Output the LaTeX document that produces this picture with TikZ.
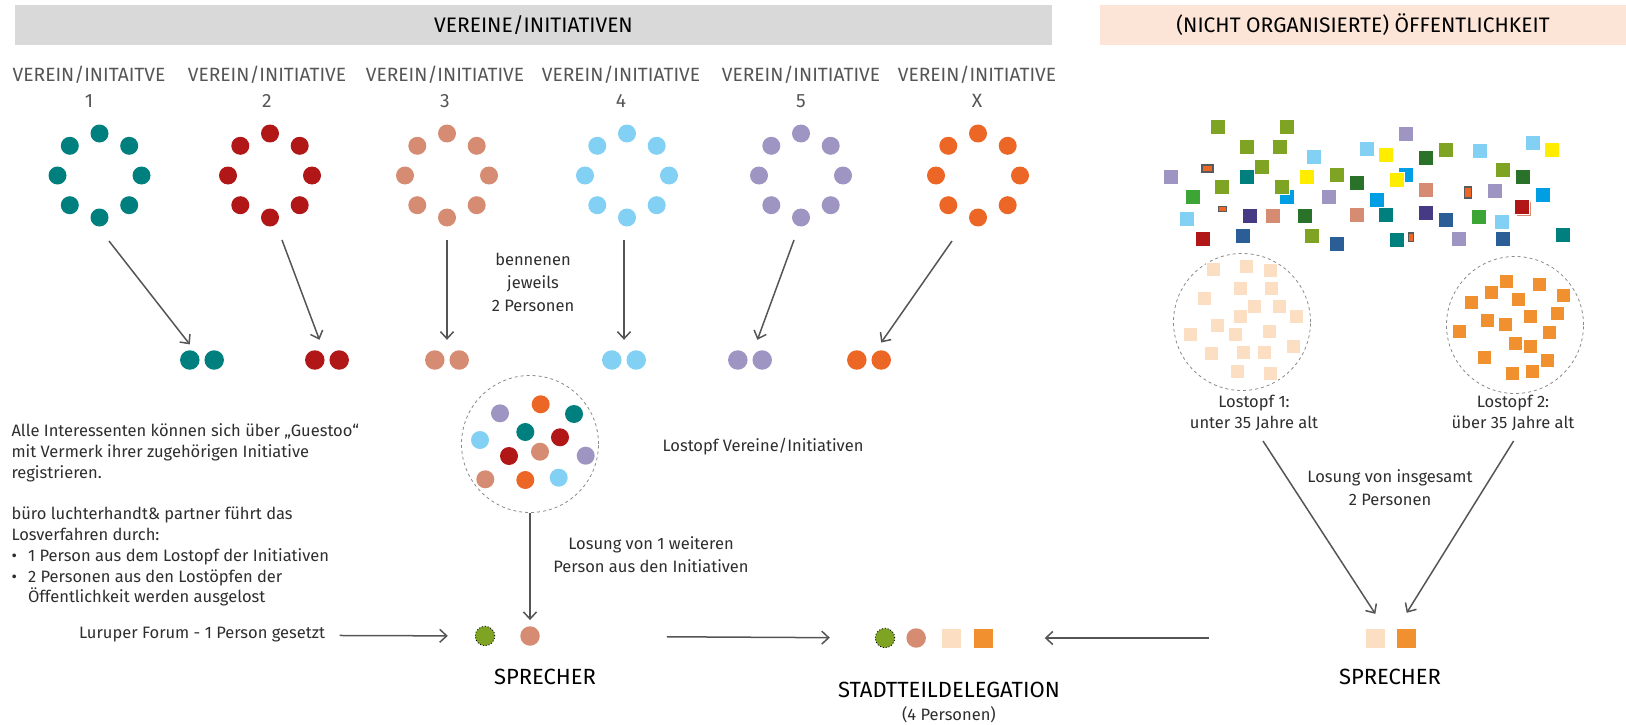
\documentclass[tikz,border=0pt]{standalone}
\usepackage{fontspec}
\setmainfont{Fira Sans}
\usetikzlibrary{calc,positioning,arrows.meta}

\definecolor{cteal}{HTML}{007F7F}
\definecolor{cred}{HTML}{B01716}
\definecolor{csalmon}{HTML}{D68C73}
\definecolor{clblue}{HTML}{83D0F5}
\definecolor{cpurple}{HTML}{9E95C3}
\definecolor{corange}{HTML}{EC6726}
\definecolor{colive}{HTML}{7FA323}
\definecolor{cyellow}{HTML}{FFED00}
\definecolor{cdgreen}{HTML}{2A7129}
\definecolor{cblue}{HTML}{009FE3}
\definecolor{cgreen}{HTML}{3DA535}
\definecolor{cdpurple}{HTML}{473A85}
\definecolor{cdblue}{HTML}{2B5E96}
\definecolor{cpeach}{HTML}{FCDEC3}
\definecolor{corangeb}{HTML}{F0902E}
\definecolor{chead}{HTML}{D9D9D9}
\definecolor{cpbar}{HTML}{FCE4D6}
\definecolor{cline}{HTML}{555555}
\definecolor{cpot}{HTML}{8A8A8A}
\definecolor{cgsq}{HTML}{5A5A5A}
\definecolor{clbl}{HTML}{555555}
\definecolor{ctxt}{HTML}{2E2E2E}

\begin{document}
\begin{tikzpicture}[x=1pt,y=-1pt,
    dot/.style={circle,fill=#1,inner sep=0pt,minimum size=18pt},
    pdot/.style={circle,fill=#1,inner sep=0pt,minimum size=19.5pt},
    sq/.style={rectangle,fill=#1,draw=white,line width=0.5pt,inner sep=0pt,minimum size=15pt},
    psq/.style={rectangle,fill=#1,draw=white,line width=0.5pt,inner sep=0pt,minimum size=14pt},
    bsq/.style={rectangle,fill=#1,inner sep=0pt,minimum size=19pt},
    gsq/.style={rectangle,draw=cgsq,line width=2.2pt,fill=corange,inner sep=0pt},
    pot/.style={circle,draw=cpot,line width=0.8pt,dash pattern=on 3pt off 3pt,inner sep=0pt,minimum size=137pt},
    pair/.style={rectangle,inner sep=0pt,minimum width=24pt,minimum height=40pt},
    gdot/.style={pdot=colive,draw=black,line width=0.9pt,dash pattern=on 0.9pt off 2pt},
    bar/.style={rectangle,inner sep=0pt,minimum height=40pt,text=black,font=\fontsize{21}{25}\selectfont},
    lbl/.style={align=center,text=clbl,font=\fontsize{19.2}{26}\selectfont},
    txt/.style={align=center,text=ctxt,font=\fontsize{16.5}{23}\selectfont},
    big/.style={text=black,font=\fontsize{22}{26}\selectfont},
    arr/.style={draw=cline,line width=1.5pt,-{Straight Barb[length=7pt,width=13pt]}}
  ]
\useasboundingbox (0,0) rectangle (1626,725);

% headers
\node[bar,fill=chead,minimum width=1037pt] (hv) at (533.5,25) {VEREINE/INITIATIVEN};
\node[bar,fill=cpbar,minimum width=526pt] (ho) at (1363,25) {(NICHT ORGANISIERTE) ÖFFENTLICHKEIT};

% vereine / initiativen
\node[lbl] (l1) at (89,87) {VEREIN/INITAITVE\\1};
\node[lbl] (l2) at (267,87) {VEREIN/INITIATIVE\\2};
\node[lbl] (l3) at (445,87) {VEREIN/INITIATIVE\\3};
\node[lbl] (l4) at (621,87) {VEREIN/INITIATIVE\\4};
\node[lbl] (l5) at (801,87) {VEREIN/INITIATIVE\\5};
\node[lbl] (l6) at (977,87) {VEREIN/INITIATIVE\\X};

\foreach \n/\x/\c in {1/99.5/cteal,2/270/cred,3/447/csalmon,4/627/clblue,5/801/cpurple,6/978/corange}{
  \coordinate (g\n) at (\x,175.5);
  \foreach \a in {0,45,...,315}
    \node[dot=\c] at ($(g\n)+(\a:42)$) {};
}

% je 2 personen
\coordinate (s1) at (109,241);
\coordinate (s2) at (282,240);
\coordinate (s3) at (447,240);
\coordinate (s4) at (624,240);
\coordinate (s5) at (794,240);
\coordinate (s6) at (952,241);
\foreach \n/\x/\c in {1/202/cteal,2/327/cred,3/447/csalmon,4/624/clblue,5/750/cpurple,6/869/corange}{
  \node[pair] (p\n) at (\x,360) {};
  \node[pdot=\c] (p\n-a) at (p\n.west) {};
  \node[pdot=\c] (p\n-b) at (p\n.east) {};
  \draw[arr] (s\n) -- (p\n);
}
\node[txt] (benn) at (533,282.5) {bennenen\\jeweils\\2 Personen};

% lostopf vereine
\node[pot] (lv) at (530,444) {};
\foreach \x/\y/\c in {500/413.3/cpurple,540.7/404.3/corange,574/414/cteal,480/440/clblue,
    525.3/432/cteal,560/437.3/cred,509/456/cred,540/451.7/csalmon,585.7/455.7/cpurple,
    485.3/479.3/csalmon,525.3/480/corange,558.7/477.7/clblue}
  \node[dot=\c] at (\x,\y) {};
\node[txt] (lvl) at (763,447) {Lostopf Vereine/Initiativen};
\node[txt] (lvs) at (651,554.5) {Losung von 1 weiteren\\Person aus den Initiativen};

% erlaeuterung
\node[txt,align=left,anchor=north west,font=\fontsize{16.5}{20.8}\selectfont] (info) at (8,420) {Alle Interessenten können sich über „Guestoo“\\
mit Vermerk ihrer zugehörigen Initiative\\
registrieren.\\[20.8pt]
büro luchterhandt\& partner führt das\\
Losverfahren durch:\\
\makebox[16.5pt][l]{•}1 Person aus dem Lostopf der Initiativen\\
\makebox[16.5pt][l]{•}2 Personen aus den Lostöpfen der\\
\hspace*{16.5pt}Öffentlichkeit werden ausgelost};

% sprecher vereine
\node[gdot] (sg) at (485,636) {};
\node[pdot=csalmon] (ss) at (530,636) {};
\node[big] (spl) at (545,677) {SPRECHER};
\draw[arr,shorten >=6pt] (lv) -- (ss);
\node[txt] (lur) at (202,635) {Luruper Forum - 1 Person gesetzt};
\draw[arr,shorten <=11pt,shorten >=27pt] (lur) -- (sg);

% stadtteildelegation
\node[gdot] (dg) at (885,638) {};
\node[pdot=csalmon] (ds) [right=11pt of dg] {};
\node[bsq=cpeach] (dq) at (951,638) {};
\node[bsq=corangeb] (dr) [right=12.6pt of dq] {};
\node[big] (del) at (949,690) {STADTTEILDELEGATION};
\node[txt] (delp) at (949,715) {(4 Personen)};
\draw[arr,shorten <=127pt,shorten >=45pt] (ss) -- (dg);

% oeffentlichkeit
\foreach \x/\y/\c in {1217.4/126.7/colive,1286.9/126.7/colive,1246.9/146.7/colive,1279.5/146.7/colive,
    1405.9/133.3/cpurple,1313.7/156.7/clblue,1366.7/148.3/clblue,1385.8/155/cyellow,1426.1/157.3/cdgreen,
    1446.2/150/colive,1480.1/151/clblue,1532.7/142.3/clblue,1552.2/149.3/cyellow,1170.4/176.7/cpurple,
    1246.9/176.7/cteal,1262/166.7/colive,1307/176.7/cyellow,1336.5/175/colive,1356.6/182.7/cdgreen,
    1405.9/175/cblue,1396.5/180/cyellow,1502.5/169.3/colive,1522.8/176.7/cdgreen,1192.3/196.7/cgreen,
    1221.8/186.7/colive,1286.9/196.7/cblue,1281.8/186.7/colive,1329.1/196.7/cpurple,1426.1/189.3/csalmon,
    1495.2/191/cpurple,1542.8/194.3/cblue,1523.4/209/csalmon,1521.7/206.7/cred,1376.8/200/cblue,
    1187.2/218.3/clblue,1250/216/cdpurple,1272.8/216/csalmon,1304.6/216/cdgreen,1356.6/215/csalmon,
    1385.8/215/cteal,1426.1/212.3/cdpurple,1446.2/219.3/cdblue,1479.1/216.7/cgreen,1501.5/221.7/clblue,
    1202.3/238.3/cred,1242.6/236/cdblue,1312/236/colive,1336.5/244/cdblue,1396.5/240/cteal,
    1459/238.3/cpurple,1502.5/238.3/cdblue,1562.3/234.3/cteal}
  \node[sq=\c] at (\x,\y) {};
\node[gsq,minimum width=11pt,minimum height=6.8pt] at (1207.3,168.7) {};
\node[gsq,line width=1.8pt,minimum width=8pt,minimum height=5pt] at (1222.4,209) {};
\node[gsq,line width=1.8pt,minimum width=7pt,minimum height=11pt] at (1468,192.7) {};
\node[gsq,line width=1.6pt,minimum width=5pt,minimum height=8.5pt] at (1411,237.3) {};

% lostoepfe
\node[pot] (lt1) at (1242,322) {};
\node[pot] (lt2) at (1515,325) {};
\foreach \x/\y in {1213.4/269.3,1246.3/266,1270.4/270.7,1240.6/288.3,1271.1/288.3,1204.7/298.3,
    1254.6/306.7,1279.5/306.7,1240.2/316,1296.2/316,1217.4/325.3,1189.9/334,1235.5/334.3,
    1269.4/331.7,1292.9/346.7,1211/353.3,1243.2/352.7,1264/352.7,1236.9/371,1270.4/373.3}
  \node[psq=cpeach] at (\x,\y) {};
\foreach \x/\y in {1505.9/281.7,1539.4/284.3,1490.8/292.7,1518.7/299,1562.9/295.3,1471.4/302.7,
    1557.2/313.3,1487.4/320.7,1504.9/324.3,1530.4/316.3,1459.3/331.3,1548.9/332.3,1515.3/343.7,
    1530.4/346,1484.1/357.3,1546.8/360,1512/373.3,1532.7/371.7}
  \node[psq=corangeb] at (\x,\y) {};
\node[txt,font=\fontsize{16.5}{21}\selectfont] (lt1l) at (1254,412.5) {Lostopf 1:\\unter 35 Jahre alt};
\node[txt,font=\fontsize{16.5}{21}\selectfont] (lt2l) at (1513,412.5) {Lostopf 2:\\über 35 Jahre alt};
\node[txt] (los) at (1390,487.5) {Losung von insgesamt\\2 Personen};

% sprecher oeffentlichkeit
\node[pair,minimum width=31pt,minimum height=63pt] (rs) at (1391,638) {};
\node[bsq=cpeach] (rsa) at (rs.west) {};
\node[bsq=corangeb] (rsb) at (rs.east) {};
\node[big] (spr) at (1390,677) {SPRECHER};
\coordinate (u1) at (1263,441);
\coordinate (u2) at (1513.6,441);
\draw[arr] (u1) -- (rs);
\draw[arr] (u2) -- (rs);
\draw[arr,shorten <=157pt,shorten >=52pt] (rsa) -- (dr);
\end{tikzpicture}
\end{document}
